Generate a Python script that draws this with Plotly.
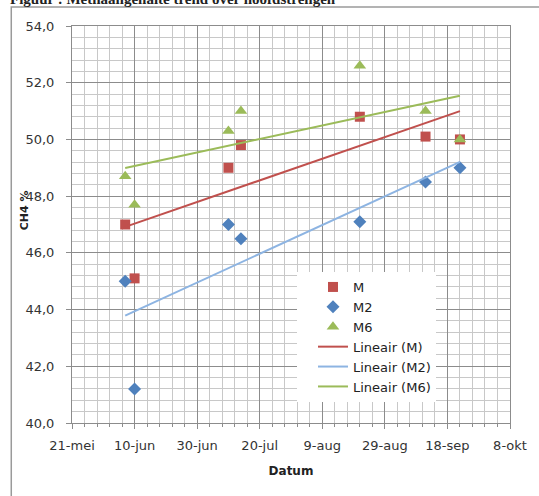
import numpy as np
import pandas as pd
import plotly.graph_objects as go

# ---- data ----
dates = ["2013-06-07", "2013-06-10", "2013-07-10", "2013-07-14",
         "2013-08-21", "2013-09-11", "2013-09-22"]
m_vals = [47.0, 45.1, 49.0, 49.8, 50.8, 50.1, 50.0]
m2_vals = [45.0, 41.2, 47.0, 46.5, 47.1, 48.5, 49.0]
m6_vals = [48.7, 47.7, 50.3, 51.0, 52.6, 51.0, 50.0]

tick_dates = ["2013-05-21", "2013-06-10", "2013-06-30", "2013-07-20",
              "2013-08-09", "2013-08-29", "2013-09-18", "2013-10-08"]
tick_labels = ["21-mei", "10-jun", "30-jun", "20-jul", "9-aug", "29-aug", "18-sep", "8-okt"]

series_names = ["M", "M2", "M6"]
series_vals = [m_vals, m2_vals, m6_vals]
marker_colors = ["#C0504D", "#4F81BD", "#9BBB59"]
line_colors = ["#C0504D", "#8DB4E2", "#9BBB59"]
symbols = ["square", "diamond", "triangle-up"]
sizes = [10, 10, 11]

FONT = "DejaVu Sans, sans-serif"

# plot-area pixel geometry
L, R, T, B = 72, 512, 26, 423
W, H = R - L, B - T
def px(x):
    return (x - L) / W
def py(y):
    return (B - y) / H

fig = go.Figure()

for name, vals, col, sym, sz in zip(series_names, series_vals, marker_colors, symbols, sizes):
    fig.add_trace(go.Scatter(x=dates, y=vals, mode="markers", name=name,
                             marker=dict(symbol=sym, size=sz, color=col, line=dict(width=0))))

# linear trendlines (least squares on date number)
d = pd.to_datetime(dates)
dn = (d - d.min()).days.values.astype(float)
xs = [d.min(), d.max()]
for name, vals, col in zip(series_names, series_vals, line_colors):
    k, b = np.polyfit(dn, np.array(vals), 1)
    ys = [b, k * dn.max() + b]
    fig.add_trace(go.Scatter(x=xs, y=ys, mode="lines", name=f"Lineair ({name})",
                             line=dict(color=col, width=2)))

# chart border (Excel chart area), extending past the window
fig.add_shape(type="rect", xref="paper", yref="paper",
              x0=px(11), x1=px(560), y0=py(520), y1=py(7),
              line=dict(color="#9a9a9a", width=1.5), layer="below")

# clipped caption at the very top
fig.add_annotation(text="<b>Figuur : Methaangehalte trend over hoofdstrengen</b>",
                   xref="paper", yref="paper", x=px(8), y=py(-1),
                   xanchor="left", yanchor="middle", showarrow=False,
                   font=dict(family="Liberation Serif, serif", size=15, color="#222"))

# y axis title
fig.add_annotation(text="<b>CH4 %</b>", xref="paper", yref="paper",
                   x=px(24), y=py(210), textangle=-90,
                   showarrow=False, xanchor="center", yanchor="middle",
                   font=dict(family=FONT, size=11, color="#222"))

major_grid = "#8c8c8c"
minor_grid = "#c8c8c8"

fig.update_layout(
    width=539, height=496,
    margin=dict(l=L, r=539 - R, t=T, b=496 - B),
    paper_bgcolor="white", plot_bgcolor="white",
    separators=", ",
    font=dict(family=FONT, size=13, color="#333"),
    showlegend=True,
    legend=dict(x=px(298), y=py(272), xanchor="left", yanchor="top",
                bgcolor="white", borderwidth=0, indentation=16,
                font=dict(family=FONT, size=13, color="#222"),
                tracegroupgap=0, itemwidth=30),
    xaxis=dict(
        type="date",
        range=[tick_dates[0], tick_dates[-1]],
        tickmode="array", tickvals=tick_dates, ticktext=tick_labels,
        showgrid=True, gridcolor=major_grid, gridwidth=1,
        showline=True, linecolor=major_grid, linewidth=1, mirror=True,
        ticks="outside", ticklen=5, tickcolor=major_grid,
        ticklabelstandoff=5,
        tickfont=dict(family=FONT, size=13, color="#333"),
        title=dict(text="<b>Datum</b>", font=dict(family=FONT, size=12, color="#222"), standoff=15),
        minor=dict(tickmode="linear", tick0=tick_dates[0], dtick=4 * 86400000,
                   showgrid=True, gridcolor=minor_grid, gridwidth=1,
                   ticks="outside", ticklen=3, tickcolor=major_grid),
        zeroline=False,
    ),
    yaxis=dict(
        range=[40, 54], tickmode="linear", tick0=40, dtick=2, tickformat=".1f",
        showgrid=True, gridcolor=major_grid, gridwidth=1,
        showline=True, linecolor=major_grid, linewidth=1, mirror=True,
        ticks="outside", ticklen=5, tickcolor=major_grid,
        ticklabelstandoff=9,
        tickfont=dict(family=FONT, size=13, color="#333"),
        minor=dict(tickmode="linear", tick0=40, dtick=0.4,
                   showgrid=True, gridcolor=minor_grid, gridwidth=1),
        zeroline=False,
    ),
)

fig.write_html("out.html")
